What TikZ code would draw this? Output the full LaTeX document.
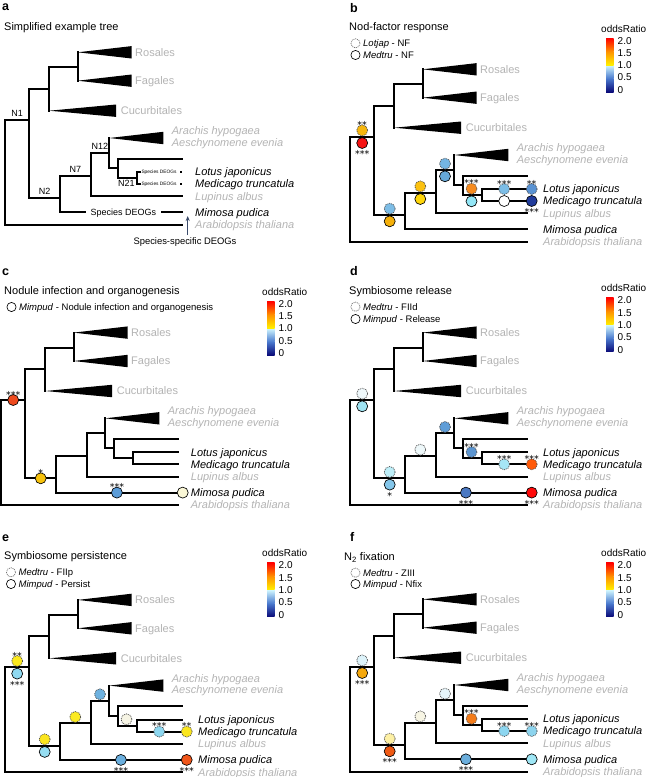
\documentclass[tikz,border=0pt]{standalone}
\usepackage{fontspec}
\setmainfont{Liberation Sans}
\newfontfamily\starfont{DejaVu Sans}
\usetikzlibrary{arrows.meta}
\definecolor{gl}{HTML}{B4B4B4}
\definecolor{arrc}{HTML}{3B4B6B}
\definecolor{cbNavy}{HTML}{0A0A78}
\definecolor{cbBlue}{HTML}{4B7BCF}
\definecolor{cbCyan}{HTML}{D2F8FF}
\definecolor{cbYel}{HTML}{FFF000}
\definecolor{cbOra}{HTML}{FF9000}
\definecolor{cbRed}{HTML}{FF0000}
% panel b
\definecolor{bRootD}{HTML}{F6B60E}\definecolor{bRootS}{HTML}{F51414}
\definecolor{bN2D}{HTML}{7DBDE6}\definecolor{bN2S}{HTML}{F5B00A}
\definecolor{bN7D}{HTML}{FBC110}\definecolor{bN7S}{HTML}{FFD60A}
\definecolor{bN12D}{HTML}{74B5E2}\definecolor{bN12S}{HTML}{66A9D9}
\definecolor{bN21D}{HTML}{F68B1F}\definecolor{bN21S}{HTML}{93E6F6}
\definecolor{bLotM}{HTML}{7CBDE6}\definecolor{bMedM}{HTML}{FFFFFF}
\definecolor{bLotT}{HTML}{5A93D3}\definecolor{bMedT}{HTML}{213B9B}
% panel c
\definecolor{cRoot}{HTML}{EE4A1E}\definecolor{cN2}{HTML}{F7C20C}
\definecolor{cMimM}{HTML}{5B9CD8}\definecolor{cMimT}{HTML}{FAF7D6}
% panel d
\definecolor{dRootD}{HTML}{EFF8FB}\definecolor{dRootS}{HTML}{9EE3F2}
\definecolor{dN2D}{HTML}{BDEEF8}\definecolor{dN2S}{HTML}{84C6EA}
\definecolor{dN7D}{HTML}{EEF8FA}\definecolor{dN12D}{HTML}{5F9DD7}
\definecolor{dN21D}{HTML}{5C95D0}\definecolor{dMedM}{HTML}{A6E6F6}
\definecolor{dMedT}{HTML}{FF5A0A}\definecolor{dMimM}{HTML}{4A78C2}
\definecolor{dMimT}{HTML}{FF0A0A}
% panel e
\definecolor{eRootD}{HTML}{FBE81C}\definecolor{eRootS}{HTML}{8FD9F1}
\definecolor{eN2D}{HTML}{FBE51E}\definecolor{eN2S}{HTML}{96DEF2}
\definecolor{eN7D}{HTML}{FBEA22}\definecolor{eN12D}{HTML}{6DB1DF}
\definecolor{eN21D}{HTML}{F6F4E4}\definecolor{eMedM}{HTML}{8DD7F0}
\definecolor{eMedT}{HTML}{FBE61E}\definecolor{eMimM}{HTML}{6BAFDE}
\definecolor{eMimT}{HTML}{F0561A}
% panel f
\definecolor{fRootD}{HTML}{DDF3FA}\definecolor{fRootS}{HTML}{F5A80C}
\definecolor{fN2D}{HTML}{FDF0A4}\definecolor{fN2S}{HTML}{F05A14}
\definecolor{fN7D}{HTML}{F7F5E4}\definecolor{fN12D}{HTML}{E6F5FA}
\definecolor{fN21D}{HTML}{F47C1A}\definecolor{fMedM}{HTML}{8DD6F0}
\definecolor{fMedT}{HTML}{8DD4EE}\definecolor{fMimM}{HTML}{6BAEDC}
\definecolor{fMimT}{HTML}{9EE6F5}

\tikzset{
  br/.style={line width=1.9pt, line cap=rect, line join=miter},
  csol/.style={draw=black, line width=0.65pt},
  cdot/.style={draw=black!70, line width=0.7pt, dash pattern=on 1pt off 0.9pt},
  ldot/.style={draw=black!55, line width=0.7pt, dash pattern=on 1pt off 0.9pt},
  glab/.style={anchor=base west, inner sep=0pt, text=gl, font=\fontsize{11}{13}\selectfont},
  ilab/.style={anchor=base west, inner sep=0pt, font=\fontsize{11}{13}\selectfont\itshape},
  gilab/.style={ilab, text=gl},
  ttl/.style={anchor=base west, inner sep=0pt, font=\fontsize{11}{13}\selectfont},
  plet/.style={anchor=base west, inner sep=0pt, font=\fontsize{12.5}{14}\selectfont\bfseries},
  leg/.style={anchor=base west, inner sep=0pt, font=\fontsize{9.5}{11}\selectfont},
  nlab/.style={inner sep=0pt, font=\fontsize{9}{11}\selectfont},
  tinylab/.style={inner sep=0pt, font=\fontsize{4.8}{5}\selectfont},
  starlab/.style={anchor=base, inner sep=0pt, font=\fontsize{9.5}{11}\starfont},
  cbl/.style={anchor=base west, inner sep=0pt, font=\fontsize{10}{12}\selectfont},
}
\newcounter{snum}
\newcommand{\circS}[3]{\draw[csol, fill=#3] (#1,#2) circle[radius=5.5];}
\newcommand{\circD}[3]{\draw[cdot, fill=#3] (#1,#2) circle[radius=5.5];}
\newcommand{\starA}[3]{\stepcounter{snum}\node[starlab] (st\thesnum) at (#1,#2-2.0) {#3};}
\newcommand{\starB}[3]{\stepcounter{snum}\node[starlab] (st\thesnum) at (#1,#2+14.6) {#3};}

\newcommand{\treebase}[2]{%
  \coordinate (#1R) at (25,136.7);
  \coordinate (#1N1) at (49.3,136.7);
  \coordinate (#1A) at (69.3,105.7);
  \coordinate (#1B) at (97.7,84.3);
  \coordinate (#1Ros) at (97.7,69.3);
  \coordinate (#1Fag) at (97.7,97.7);
  \coordinate (#1Cuc) at (69.3,127.7);
  \coordinate (#1N2) at (80,215);
  \coordinate (#1N7) at (110.7,192.7);
  \coordinate (#1N12) at (129.3,170);
  \coordinate (#1Ara) at (129.3,155);
  \coordinate (#1C) at (137.7,185);
  \coordinate (#1U) at (201.7,175.7);
  \coordinate (#1N21) at (156.7,195);
  \coordinate (#1Lot) at (201.7,189);
  \coordinate (#1Med) at (201.7,201);
  \coordinate (#1Lup) at (201.7,213.3);
  \coordinate (#1Mim) at (201.7,229.3);
  \coordinate (#1Ath) at (201.7,241.7);
  \draw[br] (#1R) |- (#1N1);
  \draw[br] (#1R) |- (#1Ath);
  \draw[br] (#1N1) |- (#1A);
  \draw[br] (#1N1) |- (#1N2);
  \draw[br] (#1A) |- (#1B);
  \draw[br] (#1A) |- (#1Cuc);
  \draw[br] (#1B) |- (#1Ros);
  \draw[br] (#1B) |- (#1Fag);
  \draw[br] (#1N2) |- (#1N7);
  \draw[br] (#1N7) |- (#1N12);
  \draw[br] (#1N7) |- (#1Lup);
  \draw[br] (#1N12) |- (#1Ara);
  \draw[br] (#1N12) |- (#1C);
  \draw[br] (#1C) |- (#1U);
  \draw[br] (#1C) |- (#1N21);
  \fill (#1Ros) -- ++(54,-6.2) -- ++(0,12.4) -- cycle;
  \fill (#1Fag) -- ++(54,-6.2) -- ++(0,12.4) -- cycle;
  \fill (#1Cuc) -- ++(66.7,-6.2) -- ++(0,12.4) -- cycle;
  \fill (#1Ara) -- ++(54,-6.2) -- ++(0,12.4) -- cycle;
  \node[glab] (#1lRos) at (155,73.1) {Rosales};
  \node[glab] (#1lFag) at (155,101.5) {Fagales};
  \node[glab] (#1lCuc) at (140.7,131.5) {Cucurbitales};
  \node[gilab] (#1lAra) at (191.7,151.5) {Arachis hypogaea};
  \node[gilab] (#1lAes) at (191.7,163.1) {Aeschynomene evenia};
  \node[ilab] (#1lLot) at (#2,192.8) {Lotus japonicus};
  \node[ilab] (#1lMed) at (#2,204.8) {Medicago truncatula};
  \node[gilab] (#1lLup) at (#2,217.1) {Lupinus albus};
  \node[ilab] (#1lMim) at (#2,233.1) {Mimosa pudica};
  \node[gilab] (#1lAth) at (#2,245.5) {Arabidopsis thaliana};
}
\newcommand{\fulltips}[1]{%
  \draw[br] (#1N2) |- (#1Mim);
  \draw[br] (#1N21) |- (#1Lot);
  \draw[br] (#1N21) |- (#1Med);
}
\newcommand{\cbar}[3]{%
  \node[cbl] (#1cbt) at (#2-5,#3+3.6) {oddsRatio};
  \shade[bottom color=cbNavy, top color=cbBlue] (#2,#3+63.5) rectangle (#2+7.5,#3+49.8);
  \shade[bottom color=cbBlue, top color=cbCyan] (#2,#3+50) rectangle (#2+7.5,#3+36.5);
  \shade[bottom color=cbYel, top color=cbOra] (#2,#3+36.5) rectangle (#2+7.5,#3+22.8);
  \shade[bottom color=cbOra, top color=cbRed] (#2,#3+23) rectangle (#2+7.5,#3+9.5);
  \node[cbl] (#1cb20) at (#2+11.5,#3+15.5) {2.0};
  \node[cbl] (#1cb15) at (#2+11.5,#3+27.8) {1.5};
  \node[cbl] (#1cb10) at (#2+11.5,#3+40.1) {1.0};
  \node[cbl] (#1cb05) at (#2+11.5,#3+52.4) {0.5};
  \node[cbl] (#1cb00) at (#2+11.5,#3+64.7) {0};
}
\newcommand{\legD}[4]{\draw[ldot, fill=white] (#2,#3) circle[radius=4.6];
  \node[leg] (#1) at (#2+7.5,#3+3.3) {#4};}
\newcommand{\legS}[4]{\draw[csol, fill=white] (#2,#3) circle[radius=4.6];
  \node[leg] (#1) at (#2+7.5,#3+3.3) {#4};}

\begin{document}
\begin{tikzpicture}[x=1pt,y=-1pt]
\useasboundingbox[fill=white] (0,0) rectangle (650,777);

% ---------------- panel a
\node[plet] (La) at (2,10) {a};
\node[ttl] (Ta) at (4,30) {Simplified example tree};
\begin{scope}[shift={(-20,-17)}]
  \treebase{a}{215}
  \coordinate (aMimL) at (105,229.3);
  \coordinate (aMimR) at (181.7,229.3);
  \draw[br] (aN2) |- (aMimL);
  \draw[br] (aMimR) -- (aMim);
  \node[nlab, anchor=base] (aSpD) at (143.4,232.6) {Species DEOGs};
  \coordinate (aT1) at (159.6,189);
  \coordinate (aT2) at (159.6,201);
  \draw[br] (aN21) |- (aT1);
  \draw[br] (aN21) |- (aT2);
  \node[tinylab] (aSd1) at (179,189) {Species DEOGs};
  \node[tinylab] (aSd2) at (179,201) {Species DEOGs};
  \fill (200.2,188.2) rectangle (201.8,189.8);
  \fill (200.2,200.2) rectangle (201.8,201.8);
  \node[nlab, anchor=south] (aLN1) at (37.2,133.7) {N1};
  \node[nlab, anchor=south] (aLN2) at (64.7,212) {N2};
  \node[nlab, anchor=south] (aLN7) at (95.3,189.7) {N7};
  \node[nlab, anchor=south] (aLN12) at (120,167) {N12};
  \node[nlab, anchor=north] (aLN21) at (146.5,197.5) {N21};
  \coordinate (aArS) at (207.7,252);
  \coordinate (aArE) at (207.7,233);
  \draw[arrc, line width=1.1pt, -{Stealth[length=5pt,width=4pt]}] (aArS) -- (aArE);
  \node[nlab, anchor=base, font=\fontsize{9.4}{11}\selectfont] (aSS) at (205,261.1) {Species-specific DEOGs};
\end{scope}

% ---------------- panel b
\node[plet] (Lb) at (350,12) {b};
\node[ttl] (Tb) at (349,30.7) {Nod-factor response};
\legD{Lgb1}{355.5}{43.3}{\textit{Lotjap} - NF}
\legS{Lgb2}{355.5}{55}{\textit{Medtru} - NF}
\cbar{b}{606}{28.5}
\begin{scope}[shift={(325,0)}]
  \treebase{b}{218}
  \fulltips{b}
  \circD{37.2}{130.4}{bRootD}\starA{37.2}{130.4}{**}
  \circS{37.2}{143}{bRootS}\starB{37.2}{143}{***}
  \circD{64.7}{208.7}{bN2D}
  \circS{64.7}{221.3}{bN2S}
  \circD{95.3}{186.4}{bN7D}
  \circS{95.3}{199}{bN7S}
  \circD{120}{163.7}{bN12D}
  \circS{120}{176.3}{bN12S}
  \circD{146.5}{188.7}{bN21D}\starA{146.5}{188.7}{***}
  \circS{146.5}{201.3}{bN21S}
  \circD{179.2}{189}{bLotM}\starA{179.2}{189}{***}
  \circS{179.2}{201}{bMedM}
  \circD{206.7}{189}{bLotT}\starA{206.7}{189}{**}
  \circS{206.7}{201}{bMedT}\starB{206.7}{201}{***}
\end{scope}

% ---------------- panel c
\node[plet] (Lc) at (2,275) {c};
\node[ttl] (Tc) at (4,294) {Nodule infection and organogenesis};
\legS{Lgc1}{11.5}{307}{\textit{Mimpud} - Nodule infection and organogenesis}
\cbar{c}{267}{291.7}
\begin{scope}[shift={(-24,263.3)}]
  \treebase{c}{214.7}
  \fulltips{c}
  \circS{37.2}{136.7}{cRoot}\starA{37.2}{136.7}{***}
  \circS{64.7}{215}{cN2}\starA{64.7}{215}{*}
  \circS{140.9}{229.3}{cMimM}\starA{140.9}{229.3}{***}
  \circS{206.7}{229.3}{cMimT}
\end{scope}

% ---------------- panel d
\node[plet] (Ld) at (350,275) {d};
\node[ttl] (Td) at (349,294) {Symbiosome release};
\legD{Lgd1}{355.5}{306.7}{\textit{Medtru} - FIId}
\legS{Lgd2}{355.5}{319}{\textit{Mimpud} - Release}
\cbar{d}{606}{288.3}
\begin{scope}[shift={(325,263.3)}]
  \treebase{d}{218}
  \fulltips{d}
  \circD{37.2}{130.4}{dRootD}
  \circS{37.2}{143}{dRootS}
  \circD{64.7}{208.7}{dN2D}
  \circS{64.7}{221.3}{dN2S}\starB{64.7}{221.3}{*}
  \circD{95.3}{186.4}{dN7D}
  \circD{120}{163.7}{dN12D}
  \circD{146.5}{188.7}{dN21D}\starA{146.5}{188.7}{***}
  \circD{179.2}{201}{dMedM}\starA{179.2}{201}{***}
  \circD{206.7}{201}{dMedT}\starA{206.7}{201}{***}
  \circS{140.9}{229.3}{dMimM}\starB{140.9}{229.3}{***}
  \circS{206.7}{229.3}{dMimT}\starB{206.7}{229.3}{***}
\end{scope}

% ---------------- panel e
\node[plet] (Le) at (2,541.7) {e};
\node[ttl] (Te) at (4,559.7) {Symbiosome persistence};
\legD{Lge1}{11}{572.3}{\textit{Medtru} - FIIp}
\legS{Lge2}{11}{584}{\textit{Mimpud} - Persist}
\cbar{e}{267}{553.3}
\begin{scope}[shift={(-20,530.6)}]
  \treebase{e}{218}
  \fulltips{e}
  \circD{37.2}{130.4}{eRootD}\starA{37.2}{130.4}{**}
  \circS{37.2}{143}{eRootS}\starB{37.2}{143}{***}
  \circD{64.7}{208.7}{eN2D}
  \circS{64.7}{221.3}{eN2S}
  \circD{95.3}{186.4}{eN7D}
  \circD{120}{163.7}{eN12D}
  \circD{146.5}{188.7}{eN21D}
  \circD{179.2}{201}{eMedM}\starA{179.2}{201}{***}
  \circD{206.7}{201}{eMedT}\starA{206.7}{201}{**}
  \circS{140.9}{229.3}{eMimM}\starB{140.9}{229.3}{***}
  \circS{206.7}{229.3}{eMimT}\starB{206.7}{229.3}{***}
\end{scope}

% ---------------- panel f
\node[plet] (Lf) at (350,541.7) {f};
\node[ttl] (Tf) at (344,560.7) {N\textsubscript{2} fixation};
\legD{Lgf1}{355.5}{572.7}{\textit{Medtru} - ZIII}
\legS{Lgf2}{355.5}{584}{\textit{Mimpud} - Nfix}
\cbar{f}{606}{553.3}
\begin{scope}[shift={(325,530)}]
  \treebase{f}{218}
  \fulltips{f}
  \circD{37.2}{130.4}{fRootD}
  \circS{37.2}{143}{fRootS}\starB{37.2}{143}{***}
  \circD{64.7}{208.7}{fN2D}
  \circS{64.7}{221.3}{fN2S}\starB{64.7}{221.3}{***}
  \circD{95.3}{186.4}{fN7D}
  \circD{120}{163.7}{fN12D}
  \circD{146.5}{188.7}{fN21D}\starA{146.5}{188.7}{***}
  \circD{179.2}{201}{fMedM}\starA{179.2}{201}{***}
  \circD{206.7}{201}{fMedT}\starA{206.7}{201}{***}
  \circS{140.9}{229.3}{fMimM}\starB{140.9}{229.3}{***}
  \circS{206.7}{229.3}{fMimT}
\end{scope}
\end{tikzpicture}
\end{document}
